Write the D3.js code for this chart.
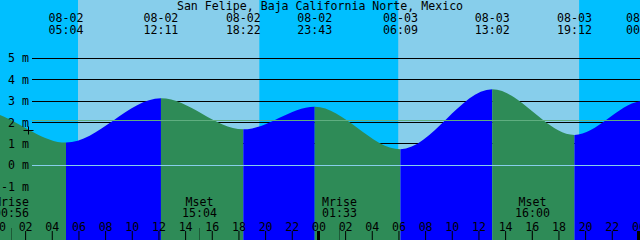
<!DOCTYPE html>
<html>
<head>
<meta charset="utf-8">
<script src="https://cdn.jsdelivr.net/npm/d3@7"></script>
<style>
  html, body { margin: 0; padding: 0; background: #00bfff; }
  svg { display: block; }
  text { font-family: "DejaVu Sans Mono", "Liberation Mono", monospace; font-size: 11.6px; fill: #000; }
</style>
</head>
<body>
<div id="chart"></div>
<script>
// tide extremes (two extra ones off the edges keep the curve shape right)
const extremeTimes = ["08-01 16:40", "08-01 22:40", "08-02 05:04", "08-02 12:11", "08-02 18:22",
                      "08-02 23:43", "08-03 06:09", "08-03 13:02", "08-03 19:12", "08-04 00:23", "08-04 06:50"];
const extremeHeights = [1.5, 2.55, 1.06, 3.13, 1.68, 2.74, 0.75, 3.55, 1.42, 3.0, 0.6];

const sunrise = ["08-02 05:58", "08-03 05:59"];
const sunset = ["08-02 19:34", "08-03 19:33"];

const moonNames = ["Mrise", "Mset", "Mrise", "Mset"];
const moonTimes = ["08-02 00:56", "08-02 15:04", "08-03 01:33", "08-03 16:00"];

const depthLevels = [-1, 0, 1, 2, 3, 4, 5];
const meanLevel = 2.1;
const markTime = "08-02 02:13";
const markLevel = 1.65;

const title = "San Felipe, Baja California Norte, Mexico";

const W = 640, H = 240;
const parse = d3.timeParse("%m-%d %H:%M");

const xScale = d3.scaleTime()
    .domain([parse("08-02 00:07"), parse("08-04 00:07")])
    .range([0, W]);

const yScale = d3.scaleLinear()
    .domain([0, 5])
    .range([165.3, 58.3]);

const rowY = v => Math.floor(yScale(v)) + 0.5;

const svg = d3.select("#chart")
    .append("svg")
    .attr("width", W)
    .attr("height", H);

// Sky: night background, day bands
svg.append("rect")
    .attr("width", W).attr("height", H)
    .attr("fill", "#00bfff");

svg.selectAll(".day")
    .data(sunrise.map((d, i) => ({ rise: parse(d), set: parse(sunset[i]) })))
    .enter()
    .append("rect")
    .attr("class", "day")
    .attr("x", d => xScale(d.rise))
    .attr("width", d => xScale(d.set) - xScale(d.rise))
    .attr("y", 0)
    .attr("height", H)
    .attr("fill", "#87ceeb");

// Depth lines (behind the water)
svg.selectAll(".depth")
    .data(depthLevels.filter(d => d > 0))
    .enter()
    .append("line")
    .attr("class", "depth")
    .attr("x1", 32).attr("x2", W)
    .attr("y1", d => rowY(d))
    .attr("y2", d => rowY(d))
    .attr("stroke", "#000")
    .attr("stroke-width", 1);

// Water
const tide = extremeTimes.map((t, i) => ({ date: parse(t), value: extremeHeights[i] }));

const area = d3.area()
    .x(d => xScale(d.date))
    .y0(H)
    .y1(d => yScale(d.value))
    .curve(d3.curveMonotoneX);

const defs = svg.append("defs");
tide.slice(0, -1).forEach((d, i) => {
    const next = tide[i + 1];
    defs.append("clipPath")
        .attr("id", `seg${i}`)
        .append("rect")
        .attr("x", xScale(d.date))
        .attr("width", xScale(next.date) - xScale(d.date))
        .attr("y", 0)
        .attr("height", H);
    svg.append("path")
        .datum(tide)
        .attr("clip-path", `url(#seg${i})`)
        .attr("fill", next.value > d.value ? "#0000ff" : "#2e8b57")
        .attr("d", area);
});

// Mean level and datum lines over the water
svg.append("line")
    .attr("x1", 32).attr("x2", W)
    .attr("y1", rowY(meanLevel))
    .attr("y2", rowY(meanLevel))
    .attr("stroke", "#5fae80");

svg.append("line")
    .attr("x1", 32).attr("x2", W)
    .attr("y1", rowY(0))
    .attr("y2", rowY(0))
    .attr("stroke", "#87ceeb");

// Depth labels
svg.selectAll(".depth-label")
    .data(depthLevels)
    .enter()
    .append("text")
    .attr("class", "depth-label")
    .attr("x", 29)
    .attr("y", d => yScale(d) + 4)
    .attr("text-anchor", "end")
    .text(d => `${d} m`);

// "+" mark
const mx = Math.round(xScale(parse(markTime))) + 0.5;
const my = Math.round(yScale(markLevel)) + 0.5;
svg.append("path")
    .attr("d", `M${mx - 5},${my}H${mx + 5}M${mx},${my - 4}V${my + 4}`)
    .attr("stroke", "#000")
    .attr("fill", "none");

// Title
svg.append("text")
    .attr("x", W / 2)
    .attr("y", 10)
    .attr("text-anchor", "middle")
    .text(title);

// Extreme labels at the top (only those reaching into the picture)
const fmtDay = d3.timeFormat("%m-%d");
const fmtTime = d3.timeFormat("%H:%M");
const extremeLabels = svg.selectAll(".extreme")
    .data(tide.filter(d => xScale(d.date) > 0 && xScale(d.date) < W + 15))
    .enter()
    .append("g")
    .attr("class", "extreme")
    .attr("transform", d => `translate(${xScale(d.date)},0)`);
extremeLabels.append("text").attr("y", 21.5).attr("text-anchor", "middle").text(d => fmtDay(d.date));
extremeLabels.append("text").attr("y", 33.5).attr("text-anchor", "middle").text(d => fmtTime(d.date));

// Moon rise/set
const moon = moonTimes.map((t, i) => ({ date: parse(t), name: moonNames[i] }));
const mg = svg.selectAll(".moon")
    .data(moon)
    .enter()
    .append("g")
    .attr("class", "moon")
    .attr("transform", d => `translate(${Math.round(xScale(d.date)) + 0.5},0)`);
mg.append("text").attr("y", 206).attr("text-anchor", "middle").text(d => d.name);
mg.append("text").attr("y", 217).attr("text-anchor", "middle").text(d => fmtTime(d.date));
mg.append("line")
    .attr("y1", 228).attr("y2", H)
    .attr("stroke", "#1d5a37");

// Hour axis along the bottom
const hourTicks = d3.timeHour.range(parse("08-02 00:00"), parse("08-04 00:01"), 2);
svg.append("g")
    .attr("transform", `translate(0,${H})`)
    .call(d3.axisTop(xScale)
        .tickValues(hourTicks)
        .tickSize(9)
        .tickPadding(0.5)
        .tickFormat(d3.timeFormat("%H")))
    .call(g => g.select(".domain").remove())
    .call(g => g.selectAll("text")
        .attr("font-family", null).attr("font-size", null).attr("fill", null))
    .call(g => g.selectAll("line").attr("stroke", "#000"));

// Day boundaries
svg.selectAll(".midnight")
    .data(d3.timeDay.range(parse("08-02 12:00"), parse("08-04 12:00")))
    .enter()
    .append("rect")
    .attr("class", "midnight")
    .attr("x", d => Math.round(xScale(d)) - 1)
    .attr("width", 3)
    .attr("y", 231)
    .attr("height", H - 231)
    .attr("fill", "#000");
</script>
</body>
</html>
